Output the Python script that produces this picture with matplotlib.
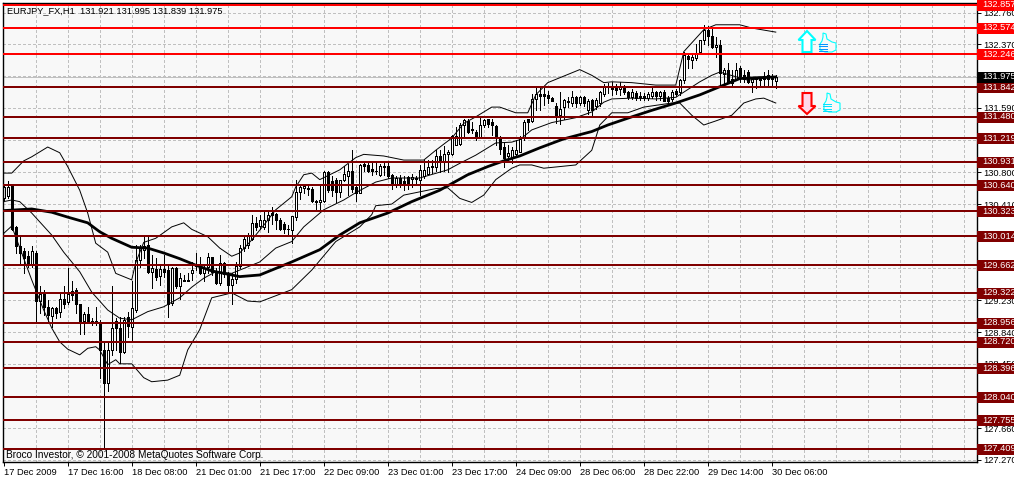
import matplotlib
matplotlib.use("Agg")
import matplotlib.pyplot as plt
from matplotlib.patches import Polygon

plt.rcParams['font.family'] = ['Liberation Sans', 'DejaVu Sans']

# ---------- candles (hourly bars, EURJPY) ----------
opens = [130.48,130.51,130.63,130.13,129.89,129.83,129.77,129.68,129.81,129.22,129.31,129.15,129.04,129.13,129.09,129.25,129.21,129.34,129.36,129.19,
         128.97,129.06,128.98,128.97,128.95,128.62,128.21,128.62,128.97,128.89,128.60,129.03,128.90,129.11,129.72,129.85,129.91,129.58,129.61,129.53,
         129.61,129.60,129.20,129.63,129.40,129.47,129.48,129.57,129.68,129.66,129.56,129.64,129.76,129.58,129.44,129.69,129.55,129.42,129.49,129.65,
         129.87,129.91,129.98,130.18,130.14,130.13,130.22,130.30,130.29,130.22,130.17,130.11,130.09,130.25,130.56,130.61,130.61,130.60,130.45,130.43,
         130.45,130.80,130.69,130.70,130.56,130.70,130.76,130.82,130.62,130.55,130.90,130.89,130.84,130.81,130.77,130.87,130.88,130.77,130.66,130.73,
         130.69,130.74,130.72,130.73,130.71,130.76,130.78,130.86,130.86,131.00,130.93,131.02,131.02,131.14,131.15,131.38,131.43,131.33,131.30,131.23,
         131.38,131.45,131.42,131.37,131.23,131.11,131.00,130.98,131.02,131.05,131.22,131.45,131.43,131.70,131.76,131.76,131.75,131.71,131.61,131.50,
         131.60,131.67,131.65,131.72,131.65,131.72,131.57,131.69,131.61,131.65,131.76,131.85,131.86,131.83,131.82,131.83,131.78,131.72,131.77,131.72,
         131.74,131.71,131.74,131.78,131.73,131.78,131.71,131.70,131.80,131.78,131.93,132.23,132.18,132.20,132.27,132.42,132.55,132.47,132.34,132.36,
         132.01,132.06,131.95,131.95,132.08,131.99,132.03,131.91,131.94,131.95,131.98,131.99,131.97,131.921]
highs = [130.64,130.69,130.64,130.14,130.01,129.87,129.83,129.89,129.83,129.40,129.36,129.23,129.15,129.15,129.31,129.40,129.62,129.46,129.38,129.19,
         129.09,129.15,129.01,129.15,128.99,128.70,128.70,129.40,129.01,129.03,129.03,129.09,129.46,129.91,129.91,130.01,130.01,129.79,129.75,129.68,
         129.79,129.66,129.64,129.64,129.56,129.54,129.56,129.70,129.81,129.76,129.68,129.81,129.76,129.63,129.79,129.70,129.58,129.56,129.70,129.91,
         130.02,130.05,130.28,130.25,130.28,130.31,130.32,130.38,130.30,130.24,130.19,130.15,130.26,130.71,130.63,130.64,130.63,130.62,130.46,130.63,
         130.82,130.82,130.75,130.73,130.71,130.88,130.90,131.07,130.63,130.90,130.92,130.92,130.93,130.91,130.90,130.91,130.91,130.78,130.75,130.77,
         130.75,130.76,130.78,130.76,130.89,130.95,130.95,130.95,131.07,131.07,131.12,131.07,131.26,131.36,131.40,131.46,131.45,131.42,131.32,131.48,
         131.45,131.46,131.45,131.38,131.24,131.16,131.13,131.11,131.20,131.25,131.44,131.46,131.76,131.86,131.85,131.85,131.80,131.72,131.65,131.78,
         131.70,131.72,131.80,131.73,131.74,131.74,131.70,131.70,131.71,131.80,131.88,131.90,131.91,131.88,131.91,131.87,131.80,131.82,131.80,131.79,
         131.77,131.79,131.83,131.80,131.80,131.81,131.73,131.81,131.82,131.94,132.27,132.24,132.24,132.38,132.42,132.61,132.59,132.57,132.46,132.42,
         132.08,132.14,132.06,132.14,132.10,132.06,132.05,131.97,131.97,131.97,132.03,132.05,132.01,131.995]
lows = [130.46,130.48,130.09,129.81,129.66,129.56,129.64,129.64,128.97,129.07,129.05,128.95,128.90,129.01,129.02,129.13,129.19,129.23,129.07,128.82,
        128.82,128.95,128.93,128.93,128.27,127.41,128.12,128.56,128.62,128.46,128.58,128.78,128.72,129.09,129.64,129.75,129.56,129.38,129.48,129.42,
        129.52,129.03,129.17,129.38,129.25,129.46,129.47,129.48,129.60,129.55,129.46,129.56,129.54,129.43,129.42,129.52,129.34,129.19,129.44,129.62,
        129.83,129.87,129.97,130.09,130.10,130.11,130.07,130.17,130.11,130.09,130.05,130.03,129.93,130.22,130.47,130.54,130.52,130.44,130.34,130.35,
        130.44,130.56,130.51,130.44,130.50,130.69,130.52,130.56,130.45,130.54,130.81,130.80,130.77,130.78,130.75,130.77,130.73,130.60,130.62,130.62,
        130.58,130.60,130.62,130.65,130.52,130.73,130.78,130.79,130.82,130.80,130.82,130.80,131.01,131.14,131.14,131.24,131.28,131.28,131.20,131.22,
        131.36,131.36,131.26,131.14,131.02,130.87,130.93,130.91,130.99,131.05,131.20,131.32,131.42,131.56,131.57,131.63,131.65,131.67,131.41,131.39,
        131.46,131.60,131.61,131.60,131.63,131.61,131.52,131.50,131.58,131.61,131.73,131.77,131.75,131.76,131.75,131.76,131.70,131.70,131.69,131.69,
        131.69,131.69,131.71,131.69,131.69,131.67,131.65,131.68,131.73,131.75,131.90,132.08,132.08,132.18,132.26,132.38,132.36,132.32,132.22,131.85,
        131.89,131.89,131.87,131.93,131.91,131.91,131.89,131.78,131.83,131.85,131.86,131.87,131.87,131.839]
closes = [130.62,130.62,130.11,129.89,129.81,129.75,129.68,129.83,129.22,129.31,129.15,129.05,129.13,129.07,129.25,129.19,129.31,129.29,129.19,128.98,
          129.06,128.97,128.96,128.95,128.62,128.21,128.62,128.89,128.89,128.60,128.99,128.91,129.13,129.72,129.87,129.89,129.58,129.62,129.52,129.61,
          129.58,129.19,129.63,129.40,129.50,129.48,129.47,129.60,129.65,129.56,129.62,129.76,129.58,129.44,129.69,129.55,129.42,129.49,129.65,129.87,
          129.98,130.03,130.18,130.13,130.22,130.22,130.28,130.28,130.22,130.11,130.10,130.10,130.26,130.56,130.62,130.63,130.59,130.45,130.43,130.46,
          130.80,130.58,130.58,130.56,130.71,130.78,130.82,130.59,130.55,130.89,130.88,130.82,130.81,130.82,130.88,130.88,130.76,130.66,130.73,130.67,
          130.66,130.65,130.74,130.72,130.83,130.83,130.86,130.88,131.00,130.93,131.02,131.05,131.24,131.25,131.38,131.44,131.30,131.32,131.22,131.38,
          131.44,131.39,131.38,131.23,131.08,130.97,131.04,131.07,131.07,131.21,131.42,131.42,131.70,131.76,131.73,131.73,131.71,131.68,131.50,131.58,
          131.69,131.66,131.72,131.65,131.72,131.65,131.68,131.57,131.69,131.78,131.85,131.86,131.82,131.81,131.86,131.78,131.72,131.78,131.71,131.74,
          131.71,131.76,131.79,131.73,131.78,131.68,131.68,131.79,131.76,131.93,132.24,132.19,132.21,132.26,132.42,132.55,132.47,132.34,132.36,132.02,
          132.06,131.90,131.90,132.06,131.98,131.95,131.91,131.95,131.95,131.93,131.94,131.95,131.94,131.975]

# ---------- indicators: bar index + price read at each vertex ----------
ma_idx = [0,7,12,16,21,24,27,32,36,40,44,48,52,57,59,64,72,79,84,89,96,102,109,116,121,125,129,134,140,147,151,157,162,168,174,179,184,188,193]
ma_val = [130.33,130.35,130.31,130.25,130.18,130.07,129.99,129.88,129.87,129.81,129.74,129.66,129.59,129.54,129.52,129.54,129.70,129.85,130.03,130.18,130.30,130.44,130.58,130.77,130.87,130.94,131.00,131.10,131.21,131.30,131.38,131.48,131.56,131.65,131.75,131.85,131.95,131.96,131.97]

upper_idx = [0,2,5,7,11,14,16,19,21,23,26,28,32,33,35,38,42,45,47,51,54,57,59,62,65,68,72,73,75,77,79,84,88,90,95,100,105,108,112,115,118,122,124,128,131,133,136,144,147,150,152,157,163,168,170,175,178,184,187,193]
upper_val = [130.79,130.79,130.94,130.99,131.11,131.04,130.87,130.58,130.30,129.93,129.82,129.56,129.48,129.69,129.94,129.99,130.13,130.18,130.10,130.01,129.87,129.77,129.81,129.97,130.15,130.34,130.50,130.62,130.77,130.79,130.71,130.83,130.98,131.02,131.00,130.95,130.95,131.07,131.22,131.40,131.48,131.60,131.60,131.53,131.53,131.75,131.90,132.06,131.99,131.90,131.91,131.90,131.87,131.87,132.28,132.55,132.61,132.61,132.57,132.52]

mid_idx = [0,2,4,7,12,15,19,22,26,29,32,36,40,44,47,50,53,57,64,68,72,75,80,85,88,93,97,104,111,114,118,123,127,129,132,137,143,147,150,152,157,163,168,174,177,179,186,193]
mid_val = [130.44,130.46,130.44,130.30,130.03,129.82,129.58,129.33,129.11,129.01,128.99,129.09,129.15,129.26,129.39,129.50,129.58,129.56,129.70,129.87,129.95,130.13,130.34,130.46,130.55,130.68,130.73,130.73,130.83,130.91,131.01,131.16,131.17,131.20,131.32,131.41,131.47,131.54,131.66,131.70,131.71,131.70,131.72,131.91,131.99,132.03,131.93,131.97]

lower_idx = [0,2,7,10,12,14,16,19,21,23,24,26,28,29,32,35,37,41,44,46,49,52,57,61,64,72,77,83,89,92,93,97,100,108,111,114,117,120,123,127,129,132,135,143,147,149,152,156,160,167,169,172,175,178,182,185,188,190,193]
lower_val = [130.05,130.14,129.48,129.11,128.89,128.72,128.63,128.56,128.64,128.66,128.62,128.44,128.50,128.45,128.45,128.28,128.23,128.25,128.31,128.62,128.87,129.26,129.32,129.22,129.21,129.36,129.60,129.95,130.13,130.28,130.39,130.41,130.52,130.60,130.61,130.48,130.43,130.52,130.71,130.85,130.89,130.89,130.85,130.89,131.07,131.38,131.53,131.53,131.60,131.65,131.65,131.50,131.38,131.43,131.50,131.65,131.70,131.71,131.65]

# ---------- horizontal levels ----------
resistance_levels = [132.857, 132.574, 132.246]
support_levels = [131.842, 131.480, 131.219, 130.931, 130.640, 130.323, 130.014, 129.662, 129.322,
                  128.956, 128.720, 128.396, 128.040, 127.755, 127.409]
current_price = 131.975

# ---------- axis labels ----------
y_ticks = [132.76,132.37,131.98,131.59,131.20,130.80,130.41,130.02,129.63,129.23,128.84,128.45,128.06,127.66,127.27]
x_tick_idx = list(range(0, 193, 16))
x_tick_labels = ['17 Dec 2009','17 Dec 16:00','18 Dec 08:00','21 Dec 01:00','21 Dec 17:00','22 Dec 09:00','23 Dec 01:00',
                 '23 Dec 17:00','24 Dec 09:00','28 Dec 06:00','28 Dec 22:00','29 Dec 14:00','30 Dec 06:00']
x_grid_idx = list(range(8, 241, 8))

W, H = 1014, 479
BG = '#f8f8f8'
RED = '#ff0000'
MAROON = '#800000'
FS = 7.3
FSN = 6.65

fig = plt.figure(figsize=(W/100, H/100), dpi=100, facecolor='white')
ax = fig.add_axes([2.5/W, 1-461.5/H, (977-2.5)/W, (461.5-3)/H], facecolor=BG)
ax.set_xlim(-0.3, 243.3)
ax.set_ylim(132.914-461.5*0.01227, 132.914-3*0.01227)
ax.set_axisbelow(True)

for s in ax.spines.values():
    s.set_linewidth(1.0)
    s.set_color('black')
ax.yaxis.tick_right()
ax.set_yticks(y_ticks)
ax.set_yticklabels([f'{v:.3f}' for v in y_ticks], fontsize=FSN)
ax.tick_params(axis='y', length=3, width=0.7, pad=1.5)
ax.set_xticks(x_tick_idx)
ax.set_xticklabels(x_tick_labels, fontsize=FSN, ha='left')
ax.tick_params(axis='x', length=3, width=0.7, pad=2.0)

dash = (0, (3, 3))
for v in y_ticks:
    ax.plot([-0.3, 243.3], [v, v], color='#c0c0c0', lw=0.6, ls=dash, zorder=1, antialiased=False)
for v in x_grid_idx:
    ax.axvline(v, color='#c0c0c0', lw=0.6, ls=dash, zorder=1, antialiased=False)
ax.axhline(current_price, color='#c0c0c0', lw=0.6, zorder=1, antialiased=False)

# candles
idx = list(range(len(opens)))
ax.vlines(idx, lows, highs, color='black', lw=0.6, zorder=2, antialiased=False)
for i, (o, c) in enumerate(zip(opens, closes)):
    face = 'white' if c >= o else 'black'
    ax.bar(i, abs(c-o), bottom=min(o, c), width=0.5, facecolor=face, edgecolor='black',
           linewidth=0.5, zorder=2.2, antialiased=False)

# indicators
ax.plot(upper_idx, upper_val, color='black', lw=0.7, zorder=3)
ax.plot(mid_idx, mid_val, color='black', lw=0.7, zorder=3)
ax.plot(lower_idx, lower_val, color='black', lw=0.7, zorder=3)
ax.plot(ma_idx, ma_val, color='black', lw=2.0, zorder=3.2)

# levels with price boxes
tr = ax.get_yaxis_transform()
def level(v, line, box, txt='white', draw=True):
    if draw:
        ax.axhline(v, color=line, lw=1.44, zorder=4)
    ax.plot([1.0, 1.05], [v, v], transform=tr, color=box, lw=7.9, solid_capstyle='butt',
            clip_on=False, zorder=5, antialiased=False)
    ax.text(1.0052, v, f'{v:.3f}', transform=tr, color=txt, fontsize=FSN, va='center', ha='left',
            clip_on=False, zorder=6)
for v in resistance_levels:
    level(v, RED, RED)
for v in support_levels:
    level(v, MAROON, MAROON)
level(current_price, None, 'black', draw=False)

# overlay in pixel space for the text and icon annotations
ov = fig.add_axes([0, 0, 1, 1], facecolor='none')
ov.set_xlim(0, W); ov.set_ylim(H, 0); ov.axis('off')
ov.text(7, 10.5, 'EURJPY_FX,H1  131.921 131.995 131.839 131.975', fontsize=FSN, va='center', ha='left', color='black')
ov.text(6, 455, 'Broco Investor, © 2001-2008 MetaQuotes Software Corp.', fontsize=FS, va='center', ha='left', color='black')

up = [(807,31),(798.5,40),(802.5,40),(802.5,52),(811.5,52),(811.5,40),(815.5,40)]
ov.add_patch(Polygon(up, closed=True, facecolor='white', edgecolor='#00ffff', lw=1.5))
dn = [(802.5,93),(811.5,93),(811.5,106),(815.5,106),(807,114),(798.5,106),(802.5,106)]
ov.add_patch(Polygon(dn, closed=True, facecolor='#ffd8e8', edgecolor=RED, lw=1.5))

def hand(dx, dy, c1, c2):
    thumb = [(823,33),(826,34),(827,39),(832,42),(836,43),(836,50),(832,52),(825,52),(820,50),(820,44),(822,41),(823,37)]
    ov.add_patch(Polygon([(x+dx, y+dy) for x, y in thumb], closed=True, facecolor='#f8f8f8', edgecolor=c1, lw=0.8))
    for k in range(4):
        ov.plot([819+dx, 827+dx], [44+k*2.4+dy, 44+k*2.4+dy], color=c2, lw=0.7)
hand(0, 0, '#00ffff', '#0090ff')
hand(4, 60, '#00ffff', '#00e0ff')

fig.savefig('out.png', dpi=100, facecolor='white')
